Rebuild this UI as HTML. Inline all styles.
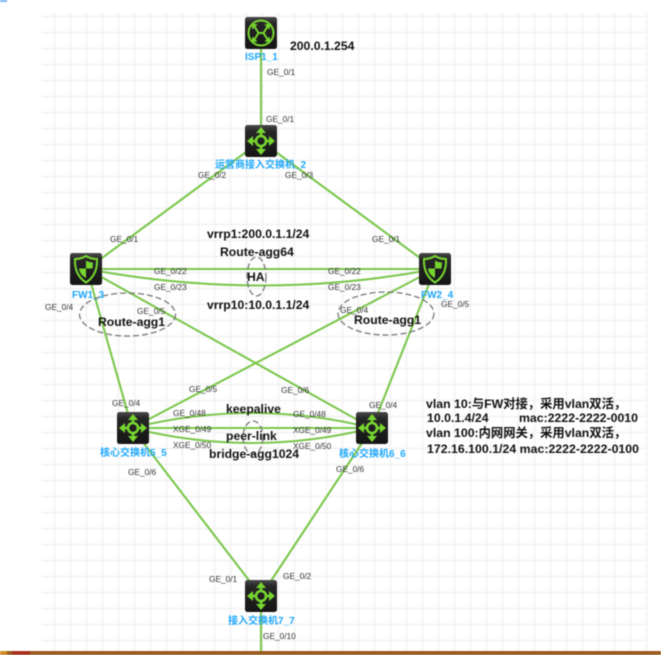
<!DOCTYPE html>
<html><head><meta charset="utf-8">
<style>
html,body{margin:0;padding:0;background:#fff;width:661px;height:655px;overflow:hidden}
svg{display:block;filter:blur(0.5px)}
text{font-family:"Liberation Sans","Noto Sans CJK SC",sans-serif}
.p{font-size:8.3px;fill:#333}
.b{font-size:12.2px;font-weight:bold;fill:#111}
.m{font-size:12.3px;font-weight:bold;fill:#111}
.n{font-size:10px;font-weight:bold;fill:#1ea7fa}
.l{stroke:#7bc74c;stroke-width:2.1;fill:none}
.e{fill:none;stroke:#777;stroke-width:1.3;stroke-dasharray:6 3}
</style></head><body>
<svg width="661" height="655" viewBox="0 0 661 655" xmlns="http://www.w3.org/2000/svg">
<defs>
<linearGradient id="g" x1="0" y1="0" x2="0" y2="1"><stop offset="0" stop-color="#4a4a4a"/><stop offset=".2" stop-color="#262626"/><stop offset="1" stop-color="#151515"/></linearGradient>
<g id="sw"><rect x="-16" y="-16" width="32" height="32" rx="2.5" fill="url(#g)"/>
<g stroke="#76d62f" stroke-width="2.6" fill="none"><circle r="5"/><path d="M0-5V-10M0 5V10M-5 0H-10M5 0H10"/></g>
<g fill="#76d62f"><path d="M0-14L-5-8H5ZM0 14L-5 8H5ZM-14 0L-8-5V5ZM14 0L8-5V5Z"/></g></g>
<g id="fw"><rect x="-16" y="-16" width="32" height="32" rx="2.5" fill="url(#g)"/>
<path d="M0-13C4-10.500 8-10 11-10C11.500 0 8.500 8 0 13.500C-8.500 8-11.500 0-11-10C-8-10-4-10.500 0-13Z" fill="none" stroke="#76d62f" stroke-width="2"/>
<path d="M0-8.500C2.500-7 5-6.500 7-6.500L6.500-0.500H0ZM0-0.500H-7C-6.500 3.500-4 7 0 9Z" fill="#76d62f"/></g>
<g id="rt"><rect x="-16" y="-16" width="32" height="32" rx="2.500" fill="url(#g)"/>
<circle r="12.500" fill="none" stroke="#76d62f" stroke-width="2"/>
<g stroke="#76d62f" stroke-width="2" fill="none"><path d="M-6.500-6.500L-2.500 0L-6.500 6.500M6.500-6.500L2.500 0L6.500 6.500M-2.500 0H2.500"/></g>
<path d="M-9.500-9.500L-3.500-8.500L-8.500-3.500ZM9.500-9.500L3.500-8.500L8.500-3.500ZM-9.500 9.500L-3.500 8.500L-8.500 3.500ZM9.500 9.500L3.500 8.500L8.500 3.500Z" fill="#76d62f"/></g>
</defs>
<rect x="0" y="0" width="7" height="2" fill="#7db4f5"/>
<g stroke="#f1f1f1" stroke-width="1.500" id="grid">
<path d="M42 16.500H647M42 32.500H647M42 48.500H647M42 64.500H647M42 80.500H647M42 96.500H647M42 112.500H647M42 128.500H647M42 144.500H647M42 160.500H647M42 176.500H647M42 192.500H647M42 208.500H647M42 224.500H647M42 240.500H647M42 256.500H647M42 272.500H647M42 288.500H647M42 304.500H647M42 320.500H647M42 336.500H647M42 352.500H647M42 368.500H647M42 384.500H647M42 400.500H647M42 416.500H647M42 432.500H647M42 448.500H647M42 464.500H647M42 480.500H647M42 496.500H647M42 512.500H647M42 528.500H647M42 544.500H647M42 560.500H647M42 576.500H647M42 592.500H647M42 608.500H647M42 624.500H647M42 640.500H647"/>
<path d="M54.500 12V650M70.500 12V650M86.500 12V650M102.500 12V650M118.500 12V650M134.500 12V650M150.500 12V650M166.500 12V650M182.500 12V650M198.500 12V650M214.500 12V650M230.500 12V650M246.500 12V650M262.500 12V650M278.500 12V650M294.500 12V650M310.500 12V650M326.500 12V650M342.500 12V650M358.500 12V650M374.500 12V650M390.500 12V650M406.500 12V650M422.500 12V650M438.500 12V650M454.500 12V650M470.500 12V650M486.500 12V650M502.500 12V650M518.500 12V650M534.500 12V650M550.500 12V650M566.500 12V650M582.500 12V650M598.500 12V650M614.500 12V650M630.500 12V650M646.500 12V650"/>
</g>
<g class="l">
<path class="l" d="M261 32V141"/>
<path class="l" d="M261 141L87 269M261 141L435 269"/>
<path class="l" d="M87 269H435"/>
<path class="l" d="M87 269Q261 302 435 269"/>
<path class="l" d="M87 269L372 428M435 269L132 428M87 269L132 428M435 269L372 428"/>
<path class="l" d="M132 428Q252 398 372 428"/>
<path class="l" d="M132 428H372"/>
<path class="l" d="M132 428Q252 458 372 428"/>
<path class="l" d="M132 428L261 596M372 428L261 596M261 596V652"/>
</g>
<ellipse class="e" cx="127.500" cy="314.500" rx="48" ry="21.500"/>
<ellipse class="e" cx="386" cy="313.500" rx="48" ry="21.500"/>
<ellipse class="e" cx="256.500" cy="276.500" rx="9.500" ry="19.500"/>
<ellipse class="e" cx="253" cy="437.500" rx="10" ry="16.500"/>
<use href="#rt" x="261" y="33"/>
<use href="#sw" x="261" y="141"/>
<use href="#fw" x="86" y="269"/>
<use href="#fw" x="435" y="269"/>
<use href="#sw" x="133" y="428"/>
<use href="#sw" x="372" y="428"/>
<use href="#sw" x="261" y="596"/>
<g class="n">
<text class="n" x="245" y="60">ISP1_1</text>
<text class="n" x="215" y="168">运营商接入交换机_2</text>
<text class="n" x="72" y="298">FW1_3</text>
<text class="n" x="421" y="298">FW2_4</text>
<text class="n" x="100" y="456">核心交换机5_5</text>
<text class="n" x="339" y="457">核心交换机6_6</text>
<text class="n" x="228" y="624">接入交换机7_7</text>
</g>
<text class="p" x="267" y="75">GE_0/1</text>
<text class="p" x="266" y="122">GE_0/1</text>
<text class="p" x="198" y="178">GE_0/2</text>
<text class="p" x="285" y="178">GE_0/3</text>
<text class="p" x="110" y="242">GE_0/1</text>
<text class="p" x="372" y="242">GE_0/1</text>
<text class="p" x="154" y="274">GE_0/22</text>
<text class="p" x="154" y="290">GE_0/23</text>
<text class="p" x="328" y="274">GE_0/22</text>
<text class="p" x="328" y="290">GE_0/23</text>
<text class="p" x="45" y="310">GE_0/4</text>
<text class="p" x="137" y="314">GE_0/5</text>
<text class="p" x="340" y="313">GE_0/4</text>
<text class="p" x="441" y="307">GE_0/5</text>
<text class="p" x="189" y="392">GE_0/5</text>
<text class="p" x="281" y="393">GE_0/6</text>
<text class="p" x="112" y="406">GE_0/4</text>
<text class="p" x="369" y="408">GE_0/4</text>
<text class="p" x="173" y="416">GE_0/48</text>
<text class="p" x="293" y="417">GE_0/48</text>
<text class="p" x="173" y="432">XGE_0/49</text>
<text class="p" x="293" y="433">XGE_0/49</text>
<text class="p" x="173" y="448">XGE_0/50</text>
<text class="p" x="293" y="449">XGE_0/50</text>
<text class="p" x="128" y="475">GE_0/6</text>
<text class="p" x="336" y="472">GE_0/6</text>
<text class="p" x="209" y="582">GE_0/1</text>
<text class="p" x="283" y="579">GE_0/2</text>
<text class="p" x="263" y="639">GE_0/10</text>
<text class="b" x="290" y="50">200.0.1.254</text>
<text class="b" x="207" y="238">vrrp1:200.0.1.1/24</text>
<text class="b" x="220" y="256">Route-agg64</text>
<text class="b" x="247" y="281">HA</text>
<text class="b" x="207" y="309">vrrp10:10.0.1.1/24</text>
<text class="b" x="98" y="326">Route-agg1</text>
<text class="b" x="354" y="324">Route-agg1</text>
<text class="b" x="226" y="413">keepalive</text>
<text class="b" x="226" y="440">peer-link</text>
<text class="b" x="209" y="458">bridge-agg1024</text>
<text class="m" x="426" y="408">vlan 10:与FW对接，采用vlan双活，</text>
<text class="m" x="427" y="422">10.0.1.4/24</text>
<text class="m" x="519" y="422">mac:2222-2222-0010</text>
<text class="m" x="426" y="437">vlan 100:内网网关，采用vlan双活，</text>
<text class="m" x="427" y="453" textLength="212">172.16.100.1/24 mac:2222-2222-0100</text>
<rect x="0" y="651" width="661" height="4" fill="#9a5a20"/>
<rect x="0" y="651" width="7" height="4" fill="#d08a20"/>
<rect x="12" y="651" width="18" height="4" fill="#a8301c"/>
</svg>
</body></html>
